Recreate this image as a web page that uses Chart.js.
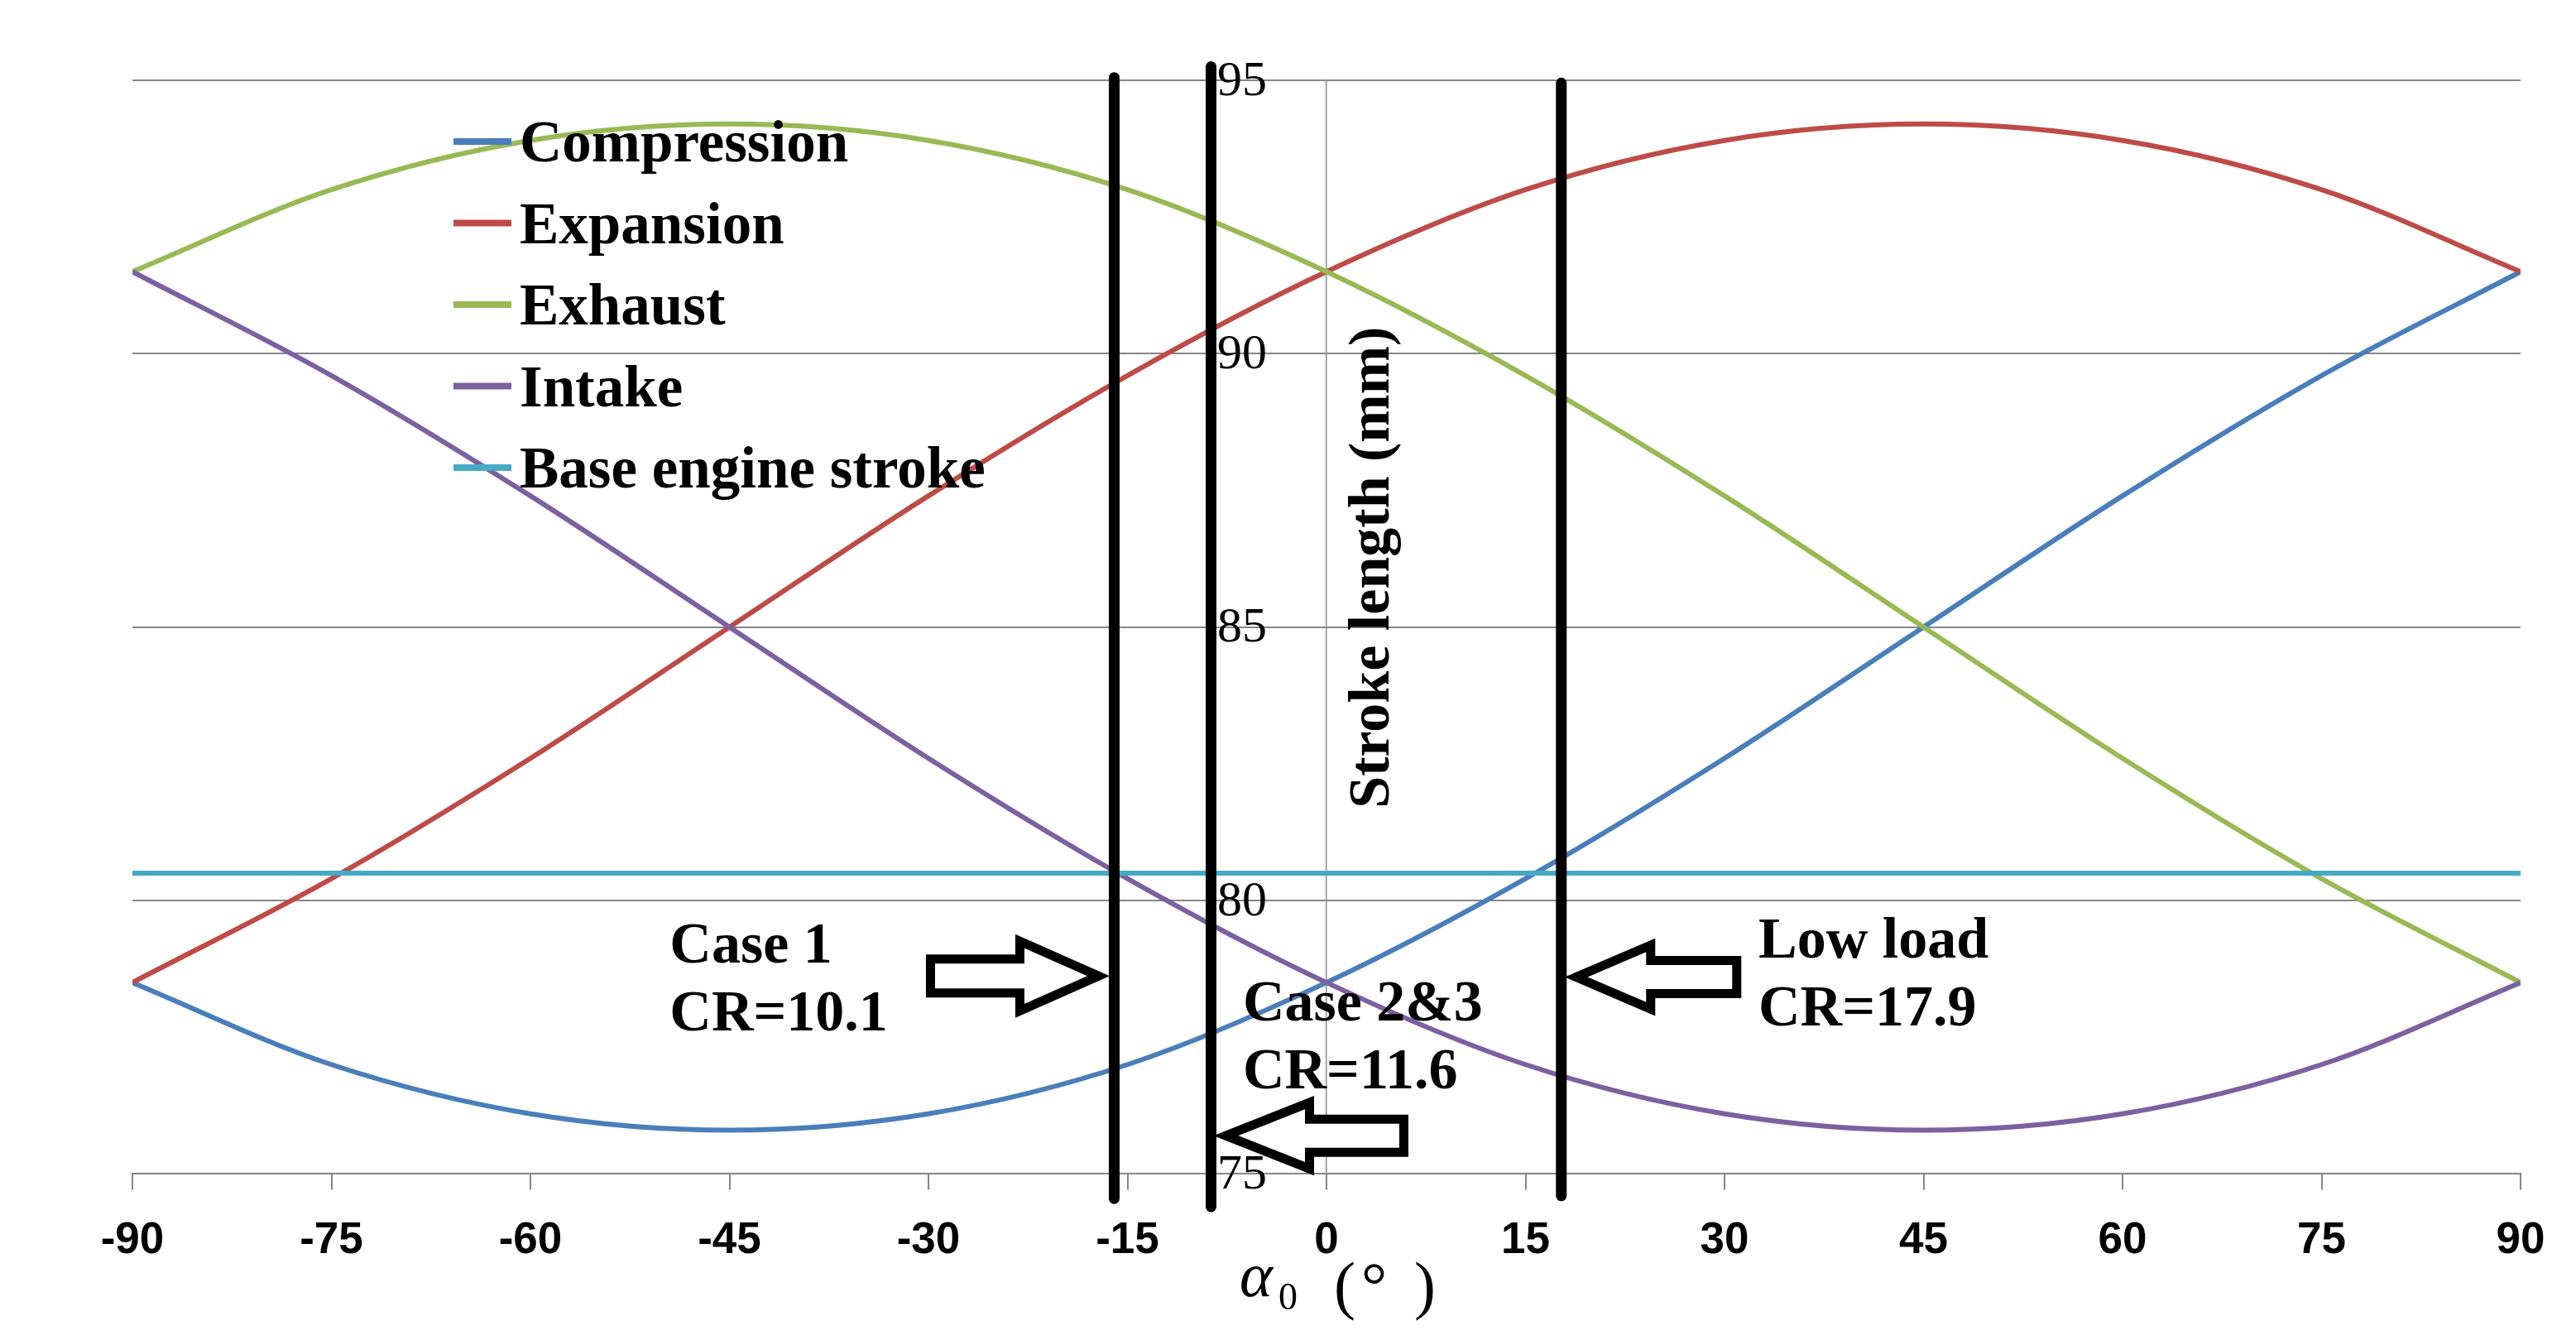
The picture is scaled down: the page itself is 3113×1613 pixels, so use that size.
<!DOCTYPE html>
<html>
<head>
<meta charset="utf-8">
<script src="https://cdn.jsdelivr.net/npm/chart.js@4.4.1/dist/chart.umd.min.js"></script>
<style>
html,body{margin:0;padding:0;background:#ffffff;}
#wrap{width:3113px;height:1613px;position:relative;}
</style>
</head>
<body>
<div id="wrap"><canvas id="c"></canvas></div>
<script>
// ---------------- DATA ----------------
const angles      = [-90, -75, -60, -45, -30, -15, 0, 15, 30, 45, 60, 75, 90];
const compression = [78.5, 77.0, 76.1, 75.8, 76.1, 77.0, 78.5, 80.4, 82.6, 85.0, 87.4, 89.6, 91.5];
const expansion   = [78.5, 80.4, 82.6, 85.0, 87.4, 89.6, 91.5, 93.0, 93.9, 94.2, 93.9, 93.0, 91.5];
const exhaust     = [91.5, 93.0, 93.9, 94.2, 93.9, 93.0, 91.5, 89.6, 87.4, 85.0, 82.6, 80.4, 78.5];
const intake      = [91.5, 89.6, 87.4, 85.0, 82.6, 80.4, 78.5, 77.0, 76.1, 75.8, 76.1, 77.0, 78.5];
const baseStroke  = [80.5, 80.5, 80.5, 80.5, 80.5, 80.5, 80.5, 80.5, 80.5, 80.5, 80.5, 80.5, 80.5];
const seriesNames = ["Compression", "Expansion", "Exhaust", "Intake", "Base engine stroke"];
const xTickValues = [-90, -75, -60, -45, -30, -15, 0, 15, 30, 45, 60, 75, 90];
const yTickValues = [75, 80, 85, 90, 95];
const caseAngles  = [-16, -8.7, 17.7];
const caseTexts   = [["Case 1", "CR=10.1"], ["Case 2&3", "CR=11.6"], ["Low load", "CR=17.9"]];
const yTitle = "Stroke length (mm)";

// ---------------- STYLE / LAYOUT ----------------
const seriesColors = ["#4A7EBB", "#BE4B48", "#98B954", "#7D60A0", "#46AAC5"];
const caseLineExtent = { top: [95.05, 95.25, 94.95], bottom: [74.55, 74.4, 74.6] };
const arrowLayout = [
  { line: 0, tipDx: -19, y: 78.62, dir: 1,  len: 203, head: 95, headHalf: 42, shaftHalf: 20.5 },
  { line: 1, tipDx: 18,  y: 75.70, dir: -1, len: 215, head: 101, headHalf: 40, shaftHalf: 20 },
  { line: 2, tipDx: 18,  y: 78.60, dir: -1, len: 194, head: 90, headHalf: 38.5, shaftHalf: 20 }
];
const textLayout = [
  { x: -49.5, y: 78.87 },
  { x: -6.3,  y: 77.80 },
  { x: 32.56, y: 78.96 }
];
const SERIF = '"Liberation Serif", "Times New Roman", serif';
const SANS = '"Liberation Sans", Arial, sans-serif';

const xy = (vals) => angles.map((a, i) => ({ x: a, y: vals[i] }));
const seriesVals = [compression, expansion, exhaust, intake, baseStroke];

const datasets = [];
caseAngles.forEach((a, i) => {
  datasets.push({
    label: '',
    isCase: true,
    data: [{ x: a, y: caseLineExtent.top[i] }, { x: a, y: caseLineExtent.bottom[i] }],
    borderColor: '#000000',
    borderWidth: 13,
    borderCapStyle: 'round',
    pointRadius: 0,
    clip: false,
    order: 0
  });
});
seriesVals.forEach((vals, i) => {
  datasets.push({
    label: seriesNames[i],
    data: xy(vals),
    borderColor: seriesColors[i],
    backgroundColor: seriesColors[i],
    borderWidth: 6,
    pointRadius: 0,
    cubicInterpolationMode: 'monotone',
    order: 10 - i
  });
});

const overlay = {
  id: 'overlay',
  afterDraw(chart) {
    const ctx = chart.ctx;
    const xs = chart.scales.x, ys = chart.scales.y;
    const x0 = xs.getPixelForValue(0);
    const yb = chart.chartArea.bottom;
    ctx.save();
    // y tick labels (left of the centred y axis)
    ctx.fillStyle = '#000000';
    ctx.font = '60px ' + SERIF;
    ctx.textAlign = 'right';
    ctx.textBaseline = 'middle';
    ys.ticks.forEach(t => {
      ctx.fillText(String(t.value), x0 - 72, ys.getPixelForValue(t.value) + 2);
    });
    // arrows
    arrowLayout.forEach(a => {
      const tx = xs.getPixelForValue(caseAngles[a.line]) + a.tipDx;
      const ty = ys.getPixelForValue(a.y);
      const hb = tx - a.dir * a.head;
      const tail = tx - a.dir * a.len;
      ctx.beginPath();
      ctx.moveTo(tx, ty);
      ctx.lineTo(hb, ty - a.headHalf);
      ctx.lineTo(hb, ty - a.shaftHalf);
      ctx.lineTo(tail, ty - a.shaftHalf);
      ctx.lineTo(tail, ty + a.shaftHalf);
      ctx.lineTo(hb, ty + a.shaftHalf);
      ctx.lineTo(hb, ty + a.headHalf);
      ctx.closePath();
      ctx.fillStyle = '#ffffff';
      ctx.fill();
      ctx.lineWidth = 11;
      ctx.lineJoin = 'miter';
      ctx.miterLimit = 4;
      ctx.strokeStyle = '#000000';
      ctx.stroke();
    });
    // case texts
    ctx.fillStyle = '#000000';
    ctx.font = 'bold 70px ' + SERIF;
    ctx.textAlign = 'left';
    ctx.textBaseline = 'alphabetic';
    caseTexts.forEach((lines, i) => {
      const x = xs.getPixelForValue(textLayout[i].x);
      const y = ys.getPixelForValue(textLayout[i].y);
      lines.forEach((t, k) => ctx.fillText(t, x, y + k * 82));
    });
    // legend
    const legendX = chart.chartArea.left + 388;
    const legendY0 = 171;
    chart.data.datasets.filter(d => !d.isCase).forEach((d, i) => {
      const y = legendY0 + i * 98.5;
      ctx.beginPath();
      ctx.moveTo(legendX, y);
      ctx.lineTo(legendX + 70, y);
      ctx.lineWidth = 8;
      ctx.lineCap = 'butt';
      ctx.strokeStyle = d.borderColor;
      ctx.stroke();
      ctx.fillStyle = '#000000';
      ctx.font = 'bold 71px ' + SERIF;
      ctx.fillText(d.label, legendX + 80, y + 24);
    });
    // y axis title
    ctx.save();
    ctx.translate(x0 + 57, ys.getPixelForValue(86.09));
    ctx.rotate(-Math.PI / 2);
    ctx.textAlign = 'center';
    ctx.textBaseline = 'middle';
    ctx.font = 'bold 70px ' + SERIF;
    ctx.fillText(yTitle, 0, 0);
    ctx.restore();
    // x axis title: alpha_0 (°)
    ctx.textAlign = 'left';
    ctx.textBaseline = 'alphabetic';
    ctx.font = 'italic 76px ' + SERIF;
    ctx.fillText('\u03B1', x0 - 105, yb + 148);
    ctx.font = '46px ' + SERIF;
    ctx.fillText('0', x0 - 58, yb + 164);
    ctx.font = '78px ' + SERIF;
    ctx.fillText('(', x0 + 9, yb + 161);
    ctx.fillText('\u00B0', x0 + 42, yb + 161);
    ctx.fillText(')', x0 + 106, yb + 161);
    ctx.restore();
  }
};

new Chart(document.getElementById('c'), {
  type: 'line',
  data: { datasets },
  options: {
    responsive: true,
    maintainAspectRatio: false,
    devicePixelRatio: 1,
    animation: false,
    layout: { padding: { left: 160, right: 67, top: 97, bottom: 52 } },
    plugins: { legend: { display: false }, tooltip: { enabled: false } },
    scales: {
      x: {
        type: 'linear',
        position: 'bottom',
        min: -90, max: 90,
        afterBuildTicks: s => { s.ticks = xTickValues.map(v => ({ value: v })); },
        ticks: { font: { family: SANS, size: 53, weight: 'bold' }, color: '#000000', padding: 30 },
        grid: { drawOnChartArea: false, drawTicks: true, tickLength: 19, color: '#868686', lineWidth: 2 },
        border: { display: true, color: '#868686', width: 2 }
      },
      y: {
        type: 'linear',
        position: { x: 0 },
        min: 75, max: 95,
        afterBuildTicks: s => { s.ticks = yTickValues.map(v => ({ value: v })); },
        ticks: { display: false },
        grid: { drawTicks: false, color: '#868686', lineWidth: 2 },
        border: { display: true, color: '#8c8c8c', width: 1.5 }
      }
    }
  },
  plugins: [overlay]
});
</script>
</body>
</html>
